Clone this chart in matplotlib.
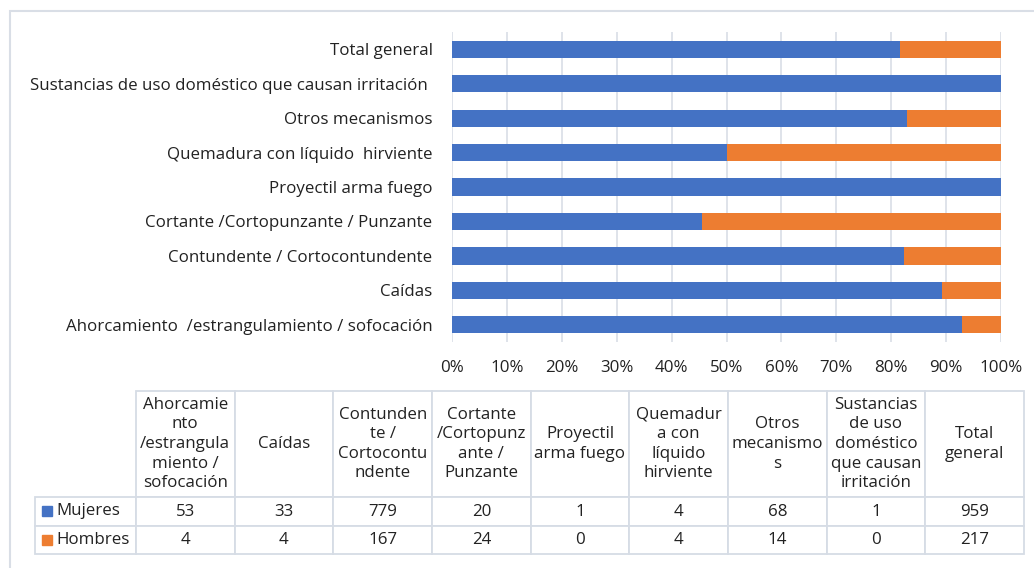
import matplotlib.pyplot as plt
from matplotlib.patches import Rectangle

plt.rcParams['font.family'] = ['Open Sans', 'DejaVu Sans']

# categories, bottom to top as drawn
categorias = ['Ahorcamiento  /estrangulamiento / sofocación', 'Caídas',
              'Contundente / Cortocontundente', 'Cortante /Cortopunzante / Punzante',
              'Proyectil arma fuego', 'Quemadura con líquido  hirviente',
              'Otros mecanismos', 'Sustancias de uso doméstico que causan irritación ',
              'Total general']
encabezados = ['Ahorcamie\nnto\n/estrangula\nmiento /\nsofocación', 'Caídas',
               'Contunden\nte /\nCortocontu\nndente', 'Cortante\n/Cortopunz\nante /\nPunzante',
               'Proyectil\narma fuego', 'Quemadur\na con\nlíquido\nhirviente',
               'Otros\nmecanismo\ns', 'Sustancias\nde uso\ndoméstico\nque causan\nirritación',
               'Total\ngeneral']
mujeres = [53, 33, 779, 20, 1, 4, 68, 1, 959]
hombres = [4, 4, 167, 24, 0, 4, 14, 0, 217]

azul = '#4472C4'
naranja = '#ED7D31'
W, H = 1034, 568
fs = 12.2

fig = plt.figure(figsize=(W / 100, H / 100), dpi=100)

# outer chart frame
fig.patches.append(Rectangle((10 / W, -0.1), 1.2, 1 - 11 / H + 0.1, transform=fig.transFigure,
                             fill=False, edgecolor='#D9DEE6', lw=1.5))

ax = fig.add_axes([452 / W, 1 - 342 / H, 549 / W, 310 / H])
tot = [m + h for m, h in zip(mujeres, hombres)]
pm = [m / t for m, t in zip(mujeres, tot)]
ph = [h / t for h, t in zip(hombres, tot)]
y = range(len(categorias))
ax.barh(y, pm, height=0.5, color=azul, zorder=3)
ax.barh(y, ph, left=pm, height=0.5, color=naranja, zorder=3)
ax.set_xlim(0, 1)
ax.set_ylim(-0.5, len(categorias) - 0.5)
ax.set_xticks([i / 10 for i in range(11)])
ax.set_xticklabels([f'{i * 10}%' for i in range(11)])
ax.set_yticks(list(y))
ax.set_yticklabels(categorias)
ax.tick_params(length=0, labelsize=fs, colors='#222222')
ax.tick_params(axis='y', pad=14)
ax.tick_params(axis='x', pad=13)
ax.grid(axis='x', color='#D9DEE6', lw=1.2, zorder=0)
for s in ax.spines.values():
    s.set_visible(False)

# data table
tax = fig.add_axes([35 / W, 1 - 554 / H, (1024 - 35) / W, (554 - 391) / H])
tax.axis('off')
celdas = [[''] + encabezados,
          [''] + [str(v) for v in mujeres],
          [''] + [str(v) for v in hombres]]
anchos = [101] + [98.7] * 9
tabla = tax.table(cellText=celdas, colWidths=anchos, cellLoc='center', bbox=[0, 0, 1, 1])
tabla.auto_set_font_size(False)
tabla.set_fontsize(fs)
altos = [106, 29, 28]
for (r, c), cell in tabla.get_celld().items():
    cell.set_height(altos[r])
    cell.set_edgecolor('#D6DCE5')
    cell.set_linewidth(1.3)
    cell.get_text().set_color('#222222')
    if r == 0:
        cell.get_text().set_linespacing(1.3)
tabla[(0, 0)].visible_edges = ''

for nombre, color, yc in [('Mujeres', azul, 511), ('Hombres', naranja, 540)]:
    fig.patches.append(Rectangle((42 / W, 1 - (yc + 5) / H), 10 / W, 10 / H,
                                 transform=fig.transFigure, color=color))
    fig.text(56 / W, 1 - yc / H, nombre, fontsize=fs, va='center', color='#222222')

fig.savefig('out.png', dpi=100)
